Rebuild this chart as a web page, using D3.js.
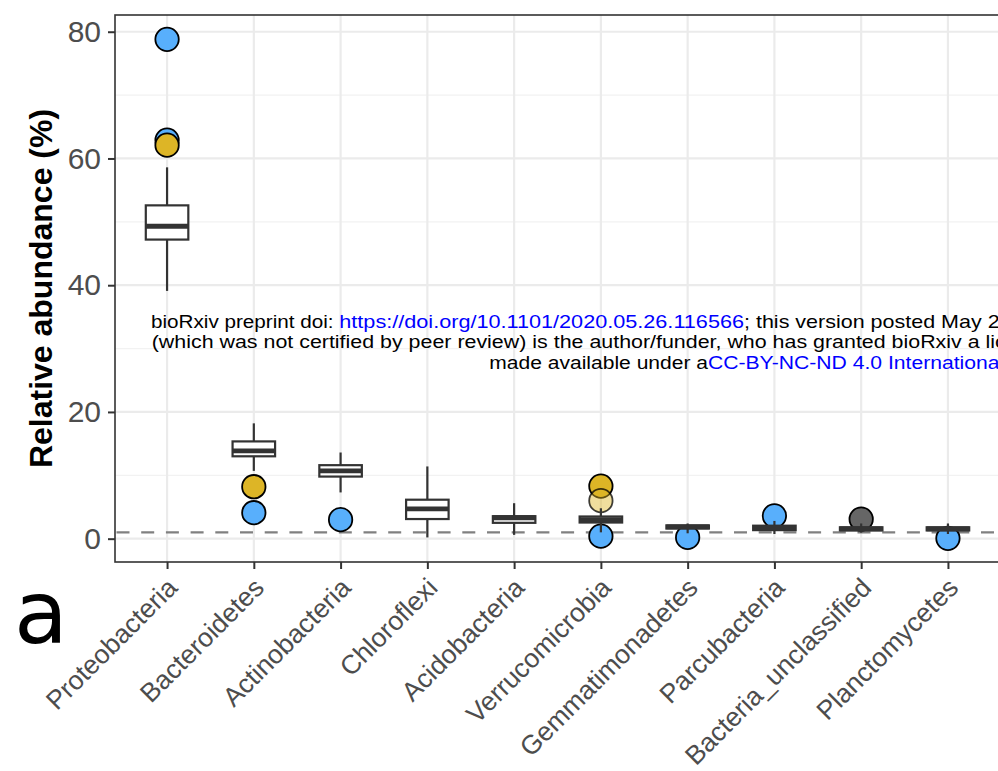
<!DOCTYPE html>
<html>
<head>
<meta charset="utf-8">
<script src="https://cdn.jsdelivr.net/npm/d3@7"></script>
<style>
  html, body { margin: 0; padding: 0; background: #ffffff; overflow: hidden; }
  svg { display: block; }
</style>
</head>
<body>
<svg id="chart" width="998" height="771"></svg>
<script>
// Phylum-level relative abundance (%) across samples
const categories = [
  "Proteobacteria", "Bacteroidetes", "Actinobacteria", "Chloroflexi", "Acidobacteria",
  "Verrucomicrobia", "Gemmatimonadetes", "Parcubacteria", "Bacteria_unclassified", "Planctomycetes"
];

// Box summaries per phylum
const whiskerLow  = [39.1, 10.7, 7.3, 0.2, 0.6, 1.0, 0.85, 0.74, 0.95, 0.74];
const quartile1   = [47.2, 13.0, 9.8, 3.1, 2.5, 2.55, 1.6, 1.35, 1.3, 1.3];
const medians     = [49.3, 13.85, 10.7, 4.7, 3.3, 3.0, 1.85, 1.7, 1.55, 1.55];
const quartile3   = [52.6, 15.35, 11.6, 6.15, 3.55, 3.5, 2.1, 2.05, 1.8, 1.8];
const whiskerHigh = [58.6, 18.2, 13.6, 11.4, 5.6, 4.8, 2.4, 2.8, 2.4, 2.4];

// Highlighted samples drawn as points
const pointCategory = [
  "Proteobacteria", "Proteobacteria", "Proteobacteria",
  "Bacteroidetes", "Bacteroidetes",
  "Actinobacteria",
  "Verrucomicrobia", "Verrucomicrobia", "Verrucomicrobia",
  "Gemmatimonadetes", "Parcubacteria", "Bacteria_unclassified", "Planctomycetes"
];
const pointValue = [78.8, 62.9, 62.1, 8.2, 4.1, 3.0, 8.3, 6.0, 0.4, 0.2, 3.6, 3.1, 0.05];
const pointGroup = [
  "blue", "blue", "gold",
  "gold", "blue",
  "blue",
  "gold", "goldFaded", "blue",
  "blue", "blue", "grey", "blue"
];

const yTicks = [0, 20, 40, 60, 80];
const yMinorTicks = [10, 30, 50, 70];
const thresholdValue = 1;

const yTitle = "Relative abundance (%)";
const panelTag = "a";

// Preprint notice: one entry per text run
const noticeText = [
  "bioRxiv preprint doi: ",
  "https://doi.org/10.1101/2020.05.26.116566",
  "; this version posted May 27, 2020. The copyright holder for this preprint",
  "(which was not certified by peer review) is the author/funder, who has granted bioRxiv a license to display the preprint in perpetuity. It is",
  "made available under a",
  "CC-BY-NC-ND 4.0 International license",
  "."
];
const noticeIsLink = [false, true, false, false, false, true, false];

// ---- styling ----
const groupFill = { blue: "#58AFFC", gold: "#DDB526", goldFaded: "#DDB526", grey: "#666666" };
const groupFillOpacity = { blue: 1, gold: 1, goldFaded: 0.45, grey: 1 };
const FONT = "'Liberation Sans', Arial, Helvetica, sans-serif";
const INK = "#333333";

const svg = d3.select("#chart");
const panel = { left: 115, top: 15, right: 1000, bottom: 562 };

const x = d3.scalePoint()
  .domain(categories)
  .range([panel.left, panel.right])
  .padding(0.6);

const y = d3.scaleLinear()
  .domain([-3.68, 82.64])
  .range([panel.bottom, panel.top]);

const step = x.step();
const boxWidth = step * 0.49;

// grid
const grid = svg.append("g");
grid.selectAll("line.minor")
  .data(yMinorTicks).join("line")
  .attr("x1", panel.left).attr("x2", panel.right)
  .attr("y1", d => y(d)).attr("y2", d => y(d))
  .attr("stroke", "#F2F2F2").attr("stroke-width", 1.3);
grid.selectAll("line.major")
  .data(yTicks).join("line")
  .attr("x1", panel.left).attr("x2", panel.right)
  .attr("y1", d => y(d)).attr("y2", d => y(d))
  .attr("stroke", "#EBEBEB").attr("stroke-width", 2.2);
grid.selectAll("line.vert")
  .data(categories).join("line")
  .attr("x1", d => x(d)).attr("x2", d => x(d))
  .attr("y1", panel.top).attr("y2", panel.bottom)
  .attr("stroke", "#EBEBEB").attr("stroke-width", 2.2);

// reference line
svg.append("line")
  .attr("x1", panel.left + 1.5).attr("x2", panel.right)
  .attr("y1", y(thresholdValue)).attr("y2", y(thresholdValue))
  .attr("stroke", "#808080").attr("stroke-width", 2.3)
  .attr("stroke-dasharray", "13,11.7");

// points
const points = pointValue.map((v, i) => ({ cat: pointCategory[i], v, g: pointGroup[i] }));
svg.append("g").selectAll("circle")
  .data(points).join("circle")
  .attr("cx", d => x(d.cat))
  .attr("cy", d => y(d.v))
  .attr("r", 11.7)
  .attr("fill", d => groupFill[d.g])
  .attr("fill-opacity", d => groupFillOpacity[d.g])
  .attr("stroke", "#000")
  .attr("stroke-opacity", d => d.g === "goldFaded" ? 0.75 : 1)
  .attr("stroke-width", 1.8);

// boxes
const boxes = categories.map((c, i) => ({
  c, lo: whiskerLow[i], q1: quartile1[i], med: medians[i], q3: quartile3[i], hi: whiskerHigh[i]
}));
const bg = svg.append("g").selectAll("g").data(boxes).join("g");
bg.append("line")
  .attr("x1", d => x(d.c)).attr("x2", d => x(d.c))
  .attr("y1", d => y(d.hi)).attr("y2", d => y(d.q3))
  .attr("stroke", INK).attr("stroke-width", 2.2);
bg.append("line")
  .attr("x1", d => x(d.c)).attr("x2", d => x(d.c))
  .attr("y1", d => y(d.q1)).attr("y2", d => y(d.lo))
  .attr("stroke", INK).attr("stroke-width", 2.2);
bg.append("rect")
  .attr("x", d => x(d.c) - boxWidth / 2)
  .attr("width", boxWidth)
  .attr("y", d => y(d.q3))
  .attr("height", d => y(d.q1) - y(d.q3))
  .attr("fill", "#fff").attr("stroke", INK).attr("stroke-width", 2.2);
bg.append("line")
  .attr("x1", d => x(d.c) - boxWidth / 2).attr("x2", d => x(d.c) + boxWidth / 2)
  .attr("y1", d => y(d.med)).attr("y2", d => y(d.med))
  .attr("stroke", INK).attr("stroke-width", 4.8);

// panel border
svg.append("rect")
  .attr("x", panel.left).attr("y", panel.top)
  .attr("width", panel.right - panel.left).attr("height", panel.bottom - panel.top)
  .attr("fill", "none").attr("stroke", INK).attr("stroke-width", 1.6);

// y axis
const yAxis = svg.append("g")
  .attr("transform", `translate(${panel.left},0)`)
  .call(d3.axisLeft(y).tickValues(yTicks).tickSize(7).tickPadding(7));
yAxis.select(".domain").remove();
yAxis.selectAll(".tick line").attr("stroke", INK).attr("stroke-width", 2);
yAxis.selectAll(".tick text")
  .attr("fill", "#4D4D4D")
  .style("font-family", FONT).style("font-size", "30px");

// x axis
const xAxis = svg.append("g")
  .attr("transform", `translate(0,${panel.bottom})`)
  .call(d3.axisBottom(x).tickSize(7));
xAxis.select(".domain").remove();
xAxis.selectAll(".tick line").attr("stroke", INK).attr("stroke-width", 2);
xAxis.selectAll(".tick text")
  .attr("x", 0).attr("y", 0)
  .attr("dy", "0.71em")
  .attr("text-anchor", "end")
  .attr("transform", "translate(-2,14) rotate(-45)")
  .attr("fill", "#4D4D4D")
  .style("font-family", FONT).style("font-size", "26.5px");

// y title
svg.append("text")
  .attr("transform", `translate(52,${(panel.top + panel.bottom) / 2}) rotate(-90)`)
  .attr("text-anchor", "middle")
  .attr("fill", "#000")
  .style("font-family", FONT).style("font-size", "32px").style("font-weight", "bold")
  .text(yTitle);

// panel tag
svg.append("text")
  .attr("x", 14).attr("y", 643)
  .attr("fill", "#000")
  .style("font-family", "'DejaVu Sans', sans-serif").style("font-size", "88px")
  .text(panelTag);

// preprint notice: runs placed at [x, baseline, fitted width or null, horizontal stretch]
const noticeLayout = [
  [151, 327.5, 188.3, 1],
  [339.3, 327.5, 404.7, 1],
  [744, 327.5, null, 1.175],
  [151.7, 348, null, 1.17],
  [489.3, 368.5, 218.7, 1],
  [708, 368.5, null, 1.155],
  [null, 368.5, null, 1.155]
];
const notice = svg.append("g")
  .style("font-family", FONT).style("font-size", "18.3px")
  .style("white-space", "pre");
let lastEnd = 0;
noticeText.forEach((s, i) => {
  const [nx, ny, w, sx] = noticeLayout[i];
  const px = nx === null ? lastEnd : nx;
  const t = notice.append("text")
    .attr("xml:space", "preserve")
    .attr("fill", noticeIsLink[i] ? "#0000FF" : "#000")
    .text(s);
  if (w) {
    t.attr("x", px).attr("y", ny)
      .attr("textLength", w).attr("lengthAdjust", "spacingAndGlyphs");
    lastEnd = px + w;
  } else {
    t.attr("transform", `translate(${px},${ny}) scale(${sx},1)`);
    lastEnd = px + t.node().getComputedTextLength() * sx;
  }
});
</script>
</body>
</html>
